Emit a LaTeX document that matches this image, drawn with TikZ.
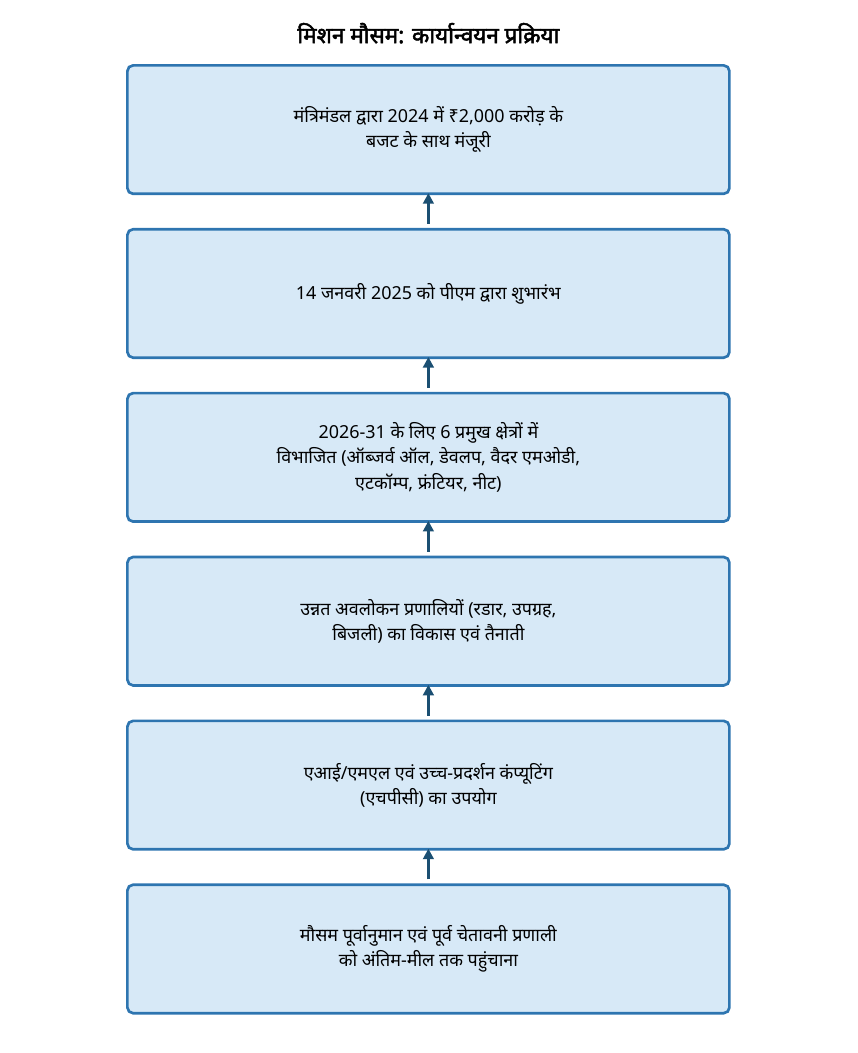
\documentclass[tikz,border=0pt]{standalone}
\usepackage{fontspec}
\newfontfamily\devfont[Script=Devanagari, AutoFakeBold=2.2]{Noto Sans}
\usepackage{xcolor}
\usetikzlibrary{positioning, arrows.meta}

\definecolor{boxfill}{HTML}{D7E9F7}
\definecolor{boxline}{HTML}{2E75B0}
\definecolor{arrowline}{HTML}{1B4F72}

\begin{document}
\begin{tikzpicture}[
  stepbox/.style={draw=boxline, fill=boxfill, line width=1.9pt, rounded corners=4pt,
    minimum width=15.05cm, minimum height=3.21cm, align=center,
    font=\devfont\fontsize{12.75}{18}\selectfont},
  uparrow/.style={draw=arrowline, line width=2.2pt, -{Triangle[length=7.5pt, width=7.5pt]},
    shorten <=0.1cm, shorten >=-0.05cm}
]
\useasboundingbox (0, 0) rectangle (21.45, -26.325);

\node (title) at (10.71, -0.83) {\devfont\bfseries\fontsize{16}{19}\selectfont मिशन मौसम: कार्यान्वयन प्रक्रिया};

\node[stepbox] (approval) at (10.71, -3.24) {मंत्रिमंडल द्वारा 2024 में ₹2,000 करोड़ के\\बजट के साथ मंजूरी};
\node[stepbox, below=0.82cm of approval] (launch) {14 जनवरी 2025 को पीएम द्वारा शुभारंभ};
\node[stepbox, below=0.82cm of launch] (sectors) {2026-31 के लिए 6 प्रमुख क्षेत्रों में\\विभाजित (ऑब्जर्व ऑल, डेवलप, वैदर एमओडी,\\एटकॉम्प, फ्रंटियर, नीट)};
\node[stepbox, below=0.82cm of sectors] (observe) {उन्नत अवलोकन प्रणालियों (रडार, उपग्रह,\\बिजली) का विकास एवं तैनाती};
\node[stepbox, below=0.82cm of observe] (compute) {एआई/एमएल एवं उच्च-प्रदर्शन कंप्यूटिंग\\(एचपीसी) का उपयोग};
\node[stepbox, below=0.82cm of compute] (lastmile) {मौसम पूर्वानुमान एवं पूर्व चेतावनी प्रणाली\\को अंतिम-मील तक पहुंचाना};

\draw[uparrow] (launch.north) -- (approval.south);
\draw[uparrow] (sectors.north) -- (launch.south);
\draw[uparrow] (observe.north) -- (sectors.south);
\draw[uparrow] (compute.north) -- (observe.south);
\draw[uparrow] (lastmile.north) -- (compute.south);

\end{tikzpicture}
\end{document}
